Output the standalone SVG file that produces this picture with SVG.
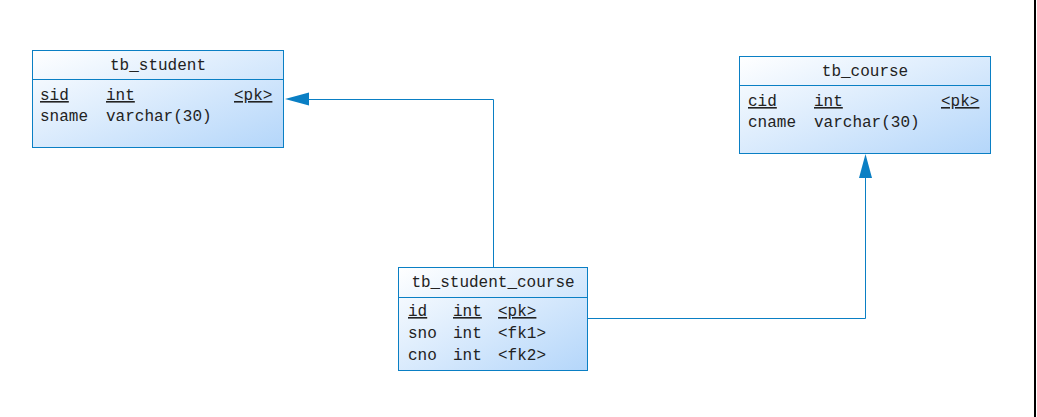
<svg xmlns="http://www.w3.org/2000/svg" width="1037" height="417" viewBox="0 0 1037 417">
<defs>
<linearGradient id="g" x1="0" y1="0" x2="1" y2="1">
<stop offset="0" stop-color="#ffffff"/>
<stop offset="1" stop-color="#b4d6fa"/>
</linearGradient>
<marker id="ah" viewBox="0 0 24 13" refX="0" refY="6.5" markerWidth="24" markerHeight="13" markerUnits="userSpaceOnUse" orient="auto-start-reverse">
<path d="M0,6.5 L24,0 L24,13 Z" fill="#0a7fc4"/>
</marker>
<style>
.box{fill:url(#g);stroke:#0a7fc4;stroke-width:1}
.div{stroke:#0a7fc4;stroke-width:1}
text{font-family:"Liberation Mono","DejaVu Sans Mono",monospace;font-size:16px;fill:#222}
.t{text-anchor:middle}
.u{text-decoration:underline}
.c{fill:none;stroke:#0a7fc4;stroke-width:1}
</style>
</defs>
<rect x="0" y="0" width="1037" height="417" fill="#ffffff"/>
<line x1="1035" y1="0" x2="1035" y2="417" stroke="#000" stroke-width="2"/>
<g id="connectors">
<path class="c" d="M493.5,267 L493.5,99.5 L309,99.5" />
<path d="M285,99 L309,92.5 L309,105.5 Z" fill="#0a7fc4"/>
<path class="c" d="M587,318.5 L865.5,318.5 L865.5,178" />
<path d="M865.5,154 L859,178 L872,178 Z" fill="#0a7fc4"/>
</g>
<g id="tb_student">
<rect class="box" x="32.5" y="50.5" width="251" height="97"/>
<line class="div" x1="32.5" y1="79.5" x2="283.5" y2="79.5"/>
<text class="t" x="158" y="70">tb_student</text>
<text class="u" x="40" y="100">sid</text>
<text class="u" x="106" y="100">int</text>
<text class="u" x="234" y="100">&lt;pk&gt;</text>
<text x="40" y="121">sname</text>
<text x="106" y="121">varchar(30)</text>
</g>
<g id="tb_course">
<rect class="box" x="739.5" y="56.5" width="251" height="97"/>
<line class="div" x1="739.5" y1="85.5" x2="990.5" y2="85.5"/>
<text class="t" x="865" y="76">tb_course</text>
<text class="u" x="748" y="106">cid</text>
<text class="u" x="814" y="106">int</text>
<text class="u" x="941" y="106">&lt;pk&gt;</text>
<text x="748" y="127">cname</text>
<text x="814" y="127">varchar(30)</text>
</g>
<g id="tb_student_course">
<rect class="box" x="398.5" y="267.5" width="189" height="103"/>
<line class="div" x1="398.5" y1="297.5" x2="587.5" y2="297.5"/>
<text class="t" x="493" y="287">tb_student_course</text>
<text class="u" x="408" y="316">id</text>
<text class="u" x="453" y="316">int</text>
<text class="u" x="498" y="316">&lt;pk&gt;</text>
<text x="408" y="338">sno</text>
<text x="453" y="338">int</text>
<text x="498" y="338">&lt;fk1&gt;</text>
<text x="408" y="360">cno</text>
<text x="453" y="360">int</text>
<text x="498" y="360">&lt;fk2&gt;</text>
</g>
</svg>
